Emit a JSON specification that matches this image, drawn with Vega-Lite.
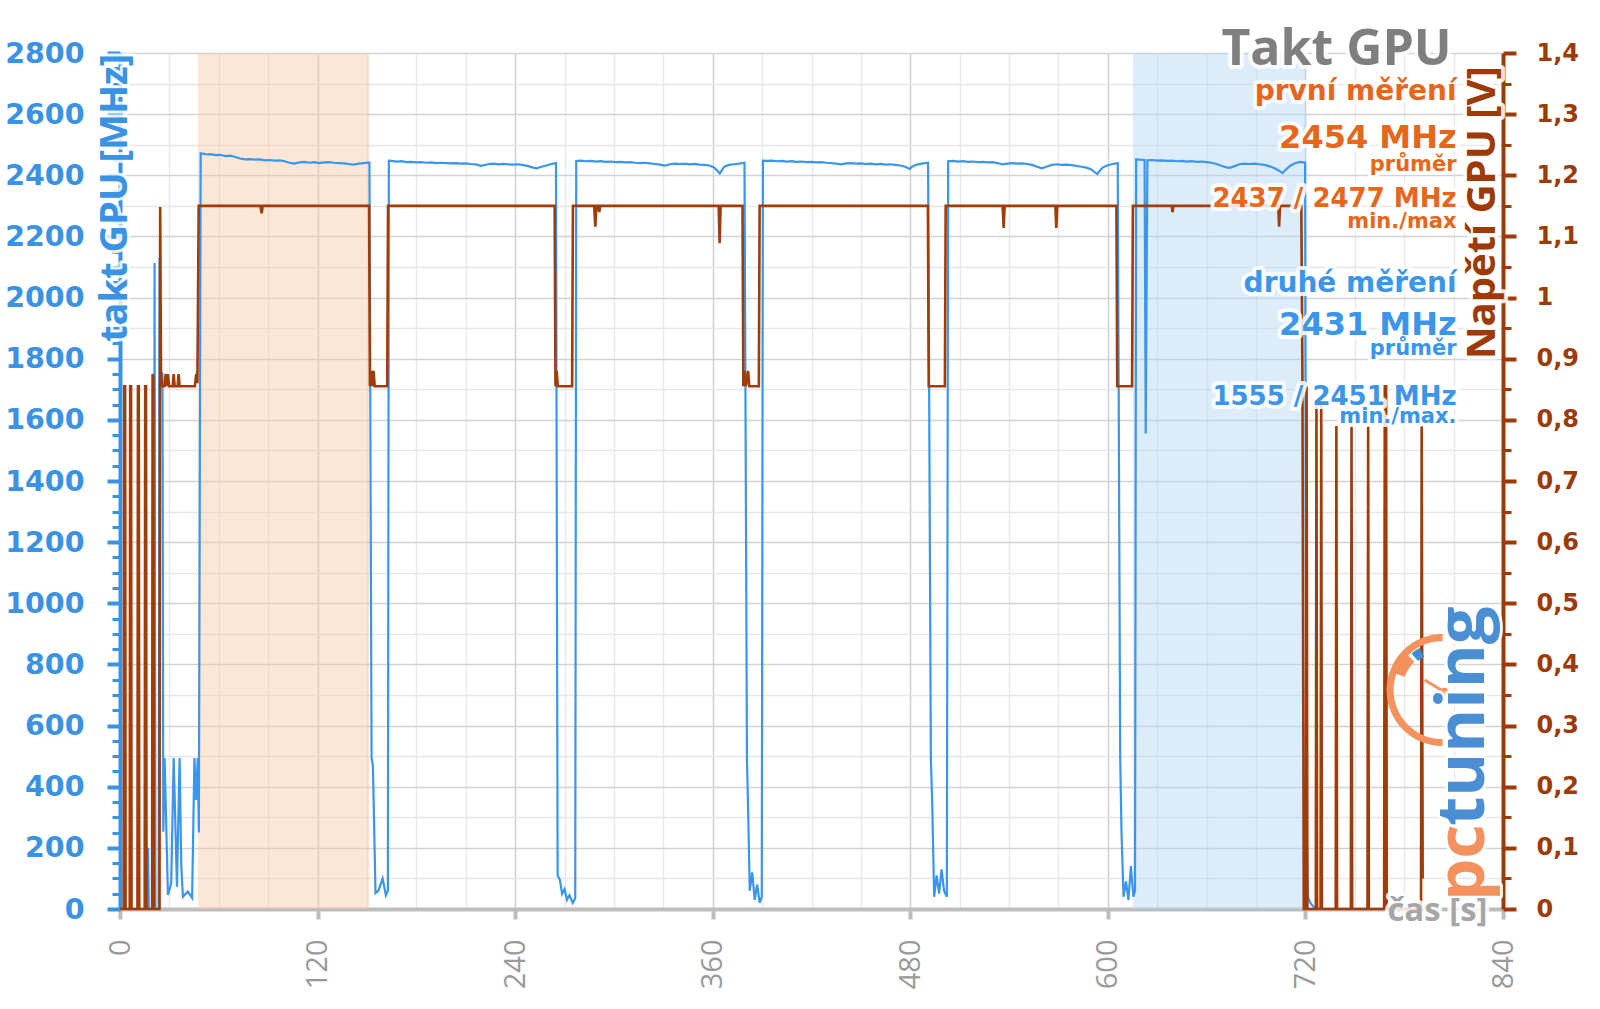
{
  "$schema": "https://vega.github.io/schema/vega-lite/v6.json",
  "width": 1383,
  "height": 856,
  "autosize": {"type": "none"},
  "padding": {"left": 120, "top": 53, "right": 97, "bottom": 100},
  "background": "white",
  "config": {
    "view": {"stroke": null},
    "style": {
      "note": {"font": "DejaVu Sans", "fontWeight": "bold", "align": "right", "baseline": "alphabetic"},
      "halo": {"fill": "white", "stroke": "white", "strokeWidth": 8, "strokeJoin": "round", "opacity": 0.85}
    }
  },
  "datasets": {
    "runs": [
      {"start": 47.3, "end": 151.3, "run": "první měření"},
      {"start": 615.2, "end": 720.5, "run": "druhé měření"}
    ],
    "clk": [
      {"t":0,"mhz":0},{"t":16.5,"mhz":0},{"t":17,"mhz":200},{"t":17.5,"mhz":0},{"t":20.5,"mhz":0},{"t":21,"mhz":2113},{"t":21.5,"mhz":0},{"t":23.5,"mhz":0},{"t":24.0,"mhz":2130},{"t":24.6,"mhz":1760},{"t":25.8,"mhz":1750},{"t":26.3,"mhz":253},{"t":27.1,"mhz":494},{"t":29.1,"mhz":46},{"t":31.1,"mhz":84},{"t":32.6,"mhz":494},{"t":34.6,"mhz":73},{"t":36.2,"mhz":494},{"t":37.2,"mhz":145},{"t":38.2,"mhz":40},{"t":41.2,"mhz":57},{"t":43.8,"mhz":36},{"t":45.2,"mhz":494},{"t":46.2,"mhz":357},{"t":47.2,"mhz":494},{"t":47.9,"mhz":250},{"t":49.0,"mhz":2472},
      {"t":51,"mhz":2470},{"t":53,"mhz":2468},{"t":55,"mhz":2469},{"t":58,"mhz":2466},{"t":61,"mhz":2467},{"t":64,"mhz":2463},{"t":67,"mhz":2464},{"t":70,"mhz":2460},{"t":73,"mhz":2455},{"t":76,"mhz":2452},{"t":79,"mhz":2453},{"t":82,"mhz":2451},{"t":85,"mhz":2452},{"t":88,"mhz":2449},{"t":91,"mhz":2450},{"t":94,"mhz":2448},{"t":97,"mhz":2449},{"t":100,"mhz":2446},{"t":103,"mhz":2441},{"t":106,"mhz":2438},{"t":109,"mhz":2442},{"t":112,"mhz":2444},{"t":115,"mhz":2441},{"t":118,"mhz":2443},{"t":121,"mhz":2440},{"t":124,"mhz":2442},{"t":127,"mhz":2443},{"t":130,"mhz":2441},{"t":133,"mhz":2440},{"t":136,"mhz":2439},{"t":139,"mhz":2437},{"t":142,"mhz":2435},{"t":145,"mhz":2438},{"t":148,"mhz":2440},{"t":151.5,"mhz":2442},
      {"t":152.8,"mhz":494},{"t":153.6,"mhz":470},{"t":155.2,"mhz":52},{"t":157,"mhz":60},{"t":159.5,"mhz":100},{"t":161.5,"mhz":45},{"t":162.7,"mhz":60},
      {"t":163.3,"mhz":2448},{"t":165,"mhz":2447},{"t":168,"mhz":2445},{"t":171,"mhz":2446},{"t":174,"mhz":2443},{"t":177,"mhz":2444},{"t":180,"mhz":2442},{"t":183,"mhz":2443},{"t":186,"mhz":2441},{"t":189,"mhz":2442},{"t":192,"mhz":2440},{"t":195,"mhz":2441},{"t":198,"mhz":2440},{"t":201,"mhz":2439},{"t":204,"mhz":2440},{"t":207,"mhz":2438},{"t":210,"mhz":2439},{"t":213,"mhz":2437},{"t":216,"mhz":2436},{"t":219,"mhz":2431},{"t":221,"mhz":2433},{"t":224,"mhz":2437},{"t":227,"mhz":2438},{"t":230,"mhz":2436},{"t":233,"mhz":2437},{"t":236,"mhz":2436},{"t":239,"mhz":2435},{"t":242,"mhz":2436},{"t":245,"mhz":2433},{"t":248,"mhz":2430},{"t":251,"mhz":2425},{"t":253,"mhz":2423},{"t":256,"mhz":2428},{"t":259,"mhz":2432},{"t":262,"mhz":2437},{"t":264.8,"mhz":2440},
      {"t":265.8,"mhz":110},{"t":267.2,"mhz":95},{"t":268.5,"mhz":50},{"t":270,"mhz":65},{"t":271.5,"mhz":30},{"t":273,"mhz":45},{"t":275,"mhz":20},{"t":276.5,"mhz":35},
      {"t":277.1,"mhz":2447},{"t":280,"mhz":2448},{"t":283,"mhz":2446},{"t":286,"mhz":2447},{"t":289,"mhz":2445},{"t":292,"mhz":2446},{"t":295,"mhz":2444},{"t":298,"mhz":2445},{"t":301,"mhz":2443},{"t":304,"mhz":2444},{"t":307,"mhz":2442},{"t":310,"mhz":2443},{"t":313,"mhz":2441},{"t":316,"mhz":2440},{"t":319,"mhz":2441},{"t":322,"mhz":2439},{"t":325,"mhz":2437},{"t":328,"mhz":2435},{"t":331,"mhz":2432},{"t":334,"mhz":2436},{"t":337,"mhz":2438},{"t":340,"mhz":2437},{"t":343,"mhz":2438},{"t":346,"mhz":2436},{"t":349,"mhz":2437},{"t":352,"mhz":2435},{"t":355,"mhz":2434},{"t":358,"mhz":2432},{"t":361,"mhz":2425},{"t":363,"mhz":2414},{"t":364.3,"mhz":2406},{"t":365.5,"mhz":2416},{"t":367,"mhz":2428},{"t":370,"mhz":2434},{"t":373,"mhz":2436},{"t":376,"mhz":2438},{"t":379.3,"mhz":2441},
      {"t":380.8,"mhz":494},{"t":381.6,"mhz":300},{"t":382.5,"mhz":60},{"t":384,"mhz":120},{"t":385.5,"mhz":30},{"t":387,"mhz":80},{"t":388.5,"mhz":20},{"t":389.8,"mhz":40},
      {"t":390.5,"mhz":2448},{"t":393,"mhz":2447},{"t":396,"mhz":2448},{"t":399,"mhz":2446},{"t":402,"mhz":2447},{"t":405,"mhz":2445},{"t":408,"mhz":2446},{"t":411,"mhz":2444},{"t":414,"mhz":2445},{"t":417,"mhz":2443},{"t":420,"mhz":2444},{"t":423,"mhz":2442},{"t":426,"mhz":2443},{"t":429,"mhz":2441},{"t":432,"mhz":2440},{"t":435,"mhz":2438},{"t":438,"mhz":2436},{"t":441,"mhz":2439},{"t":444,"mhz":2440},{"t":447,"mhz":2438},{"t":450,"mhz":2439},{"t":453,"mhz":2437},{"t":456,"mhz":2438},{"t":459,"mhz":2436},{"t":462,"mhz":2437},{"t":465,"mhz":2435},{"t":468,"mhz":2436},{"t":471,"mhz":2434},{"t":474,"mhz":2432},{"t":477,"mhz":2428},{"t":479.6,"mhz":2421},{"t":481,"mhz":2428},{"t":484,"mhz":2435},{"t":487,"mhz":2438},{"t":490.8,"mhz":2441},
      {"t":492.5,"mhz":494},{"t":493.3,"mhz":350},{"t":494.5,"mhz":40},{"t":496,"mhz":110},{"t":497.5,"mhz":50},{"t":499,"mhz":130},{"t":500.5,"mhz":60},{"t":502.2,"mhz":40},
      {"t":503.0,"mhz":2446},{"t":506,"mhz":2447},{"t":509,"mhz":2445},{"t":512,"mhz":2446},{"t":515,"mhz":2444},{"t":518,"mhz":2445},{"t":521,"mhz":2443},{"t":524,"mhz":2444},{"t":527,"mhz":2442},{"t":530,"mhz":2443},{"t":533,"mhz":2440},{"t":536,"mhz":2436},{"t":539,"mhz":2438},{"t":542,"mhz":2440},{"t":545,"mhz":2438},{"t":548,"mhz":2439},{"t":551,"mhz":2437},{"t":554,"mhz":2434},{"t":557,"mhz":2428},{"t":560,"mhz":2423},{"t":563,"mhz":2429},{"t":566,"mhz":2434},{"t":569,"mhz":2436},{"t":572,"mhz":2434},{"t":575,"mhz":2435},{"t":578,"mhz":2433},{"t":581,"mhz":2431},{"t":584,"mhz":2428},{"t":587,"mhz":2425},{"t":590,"mhz":2419},{"t":592,"mhz":2410},{"t":593.6,"mhz":2404},{"t":595,"mhz":2415},{"t":597,"mhz":2426},{"t":600,"mhz":2433},{"t":603,"mhz":2437},{"t":606,"mhz":2440},
      {"t":607.5,"mhz":494},{"t":608.3,"mhz":250},{"t":609.5,"mhz":40},{"t":611,"mhz":90},{"t":612.5,"mhz":30},{"t":614,"mhz":140},{"t":615.5,"mhz":40},{"t":616.5,"mhz":60},
      {"t":617.2,"mhz":2452},{"t":619,"mhz":2451},{"t":622.3,"mhz":2450},{"t":623.0,"mhz":1555},{"t":624.0,"mhz":2449},{"t":627,"mhz":2450},{"t":630,"mhz":2448},{"t":633,"mhz":2449},{"t":636,"mhz":2447},{"t":639,"mhz":2448},{"t":642,"mhz":2446},{"t":645,"mhz":2447},{"t":648,"mhz":2445},{"t":651,"mhz":2446},{"t":654,"mhz":2444},{"t":657,"mhz":2445},{"t":660,"mhz":2443},{"t":663,"mhz":2441},{"t":666,"mhz":2437},{"t":669,"mhz":2431},{"t":672,"mhz":2426},{"t":674,"mhz":2424},{"t":677,"mhz":2430},{"t":680,"mhz":2436},{"t":683,"mhz":2438},{"t":686,"mhz":2437},{"t":689,"mhz":2438},{"t":692,"mhz":2436},{"t":695,"mhz":2434},{"t":698,"mhz":2430},{"t":701,"mhz":2424},{"t":704,"mhz":2415},{"t":706,"mhz":2407},{"t":708,"mhz":2418},{"t":711,"mhz":2432},{"t":714,"mhz":2440},{"t":717,"mhz":2444},{"t":719.8,"mhz":2441},{"t":720.6,"mhz":300},{"t":721.5,"mhz":40},{"t":723,"mhz":20},{"t":726,"mhz":0}
    ],
    "volt": [
      {"t":0,"v":0},{"t":2.3,"v":0},{"t":2.6,"v":0.855},{"t":3.1,"v":0.855},{"t":3.4,"v":0},{"t":5.9,"v":0},{"t":6.2,"v":0.855},{"t":6.7,"v":0.855},{"t":7.0,"v":0},{"t":10.6,"v":0},{"t":10.9,"v":0.855},{"t":11.4,"v":0.855},{"t":11.7,"v":0},{"t":15.0,"v":0},{"t":15.3,"v":0.855},{"t":15.8,"v":0.855},{"t":16.1,"v":0},{"t":19.5,"v":0},{"t":19.8,"v":0.875},{"t":20.3,"v":0.87},{"t":20.6,"v":0},{"t":24.0,"v":0},{"t":24.4,"v":1.148},{"t":24.9,"v":0.875},{"t":25.5,"v":0.855},{"t":27,"v":0.855},{"t":27.8,"v":0.875},{"t":28.5,"v":0.855},{"t":29.1,"v":0.875},{"t":29.8,"v":0.855},{"t":32.0,"v":0.855},{"t":32.6,"v":0.875},{"t":33.2,"v":0.855},{"t":35.0,"v":0.855},{"t":35.6,"v":0.875},{"t":36.2,"v":0.855},{"t":45.5,"v":0.855},{"t":46.3,"v":0.875},{"t":47.0,"v":0.86},{"t":47.8,"v":1.15},
      {"t":85.3,"v":1.15},{"t":86,"v":1.138},{"t":86.7,"v":1.15},
      {"t":151.3,"v":1.15},{"t":151.8,"v":0.855},{"t":152.5,"v":0.88},{"t":153.1,"v":0.855},{"t":154,"v":0.88},{"t":154.7,"v":0.855},{"t":162.3,"v":0.855},{"t":162.8,"v":1.15},
      {"t":264.0,"v":1.15},{"t":264.5,"v":0.855},{"t":265.2,"v":0.88},{"t":265.9,"v":0.855},{"t":274.6,"v":0.855},{"t":275.1,"v":1.15},
      {"t":288.0,"v":1.15},{"t":288.7,"v":1.116},{"t":289.4,"v":1.15},{"t":290.5,"v":1.15},{"t":291.1,"v":1.14},{"t":291.7,"v":1.15},
      {"t":363.6,"v":1.15},{"t":364.2,"v":1.089},{"t":364.8,"v":1.15},
      {"t":378.1,"v":1.15},{"t":378.6,"v":0.855},{"t":379.4,"v":0.88},{"t":380.1,"v":0.855},{"t":381.5,"v":0.88},{"t":382.2,"v":0.855},{"t":388.0,"v":0.855},{"t":388.5,"v":1.15},
      {"t":490.7,"v":1.15},{"t":491.2,"v":0.855},{"t":501.0,"v":0.855},{"t":501.5,"v":1.15},
      {"t":536.1,"v":1.15},{"t":536.7,"v":1.114},{"t":537.3,"v":1.15},{"t":568.1,"v":1.15},{"t":568.7,"v":1.114},{"t":569.3,"v":1.15},
      {"t":605.2,"v":1.15},{"t":605.7,"v":0.855},{"t":614.7,"v":0.855},{"t":615.2,"v":1.15},
      {"t":638.8,"v":1.15},{"t":639.3,"v":1.14},{"t":639.8,"v":1.15},
      {"t":703.5,"v":1.15},{"t":704.0,"v":1.116},{"t":704.6,"v":1.15},
      {"t":717.5,"v":1.15},{"t":718.2,"v":0.86},{"t":719.0,"v":0},{"t":720.3,"v":0},{"t":720.7,"v":0.855},{"t":721.2,"v":0},{"t":726.3,"v":0},{"t":726.7,"v":0.83},{"t":727.1,"v":0},{"t":729.2,"v":0},{"t":729.6,"v":0.83},{"t":730.0,"v":0},{"t":738.4,"v":0},{"t":738.8,"v":0.79},{"t":739.2,"v":0},{"t":747.6,"v":0},{"t":748.0,"v":0.79},{"t":748.4,"v":0},{"t":757.7,"v":0},{"t":758.1,"v":0.79},{"t":758.5,"v":0},{"t":767.8,"v":0},{"t":768.2,"v":0.855},{"t":769.0,"v":0.855},{"t":769.4,"v":0},{"t":790.2,"v":0},{"t":790.6,"v":0.79},{"t":791.2,"v":0.05}
    ]
  },
  "layer": [
    {
      "layer": [
        {
          "data": {"name": "runs"},
          "mark": {"type": "rect", "opacity": 0.45},
          "encoding": {
            "x": {"field": "start", "type": "quantitative", "scale": {"domain": [0, 840], "nice": false}},
            "x2": {"field": "end"},
            "color": {"field": "run", "type": "nominal", "scale": {"domain": ["první měření", "druhé měření"], "range": ["#F9C9A3", "#B3D4F5"]}, "legend": null}
          }
        },
        {
          "data": {"name": "clk"},
          "mark": {"type": "line", "color": "#3A96EC", "strokeWidth": 2.2},
          "encoding": {
            "x": {"field": "t", "type": "quantitative", "scale": {"domain": [0, 840], "nice": false}},
            "y": {
              "field": "mhz", "type": "quantitative",
              "scale": {"domain": [0, 2800], "nice": false},
              "axis": {
                "title": null, "orient": "left",
                "values": [0,50,100,150,200,250,300,350,400,450,500,550,600,650,700,750,800,850,900,950,1000,1050,1100,1150,1200,1250,1300,1350,1400,1450,1500,1550,1600,1650,1700,1750,1800,1850,1900,1950,2000,2050,2100,2150,2200,2250,2300,2350,2400,2450,2500,2550,2600,2650,2700,2750,2800],
                "labelExpr": "datum.value % 200 === 0 ? format(datum.value, 'd') : ''",
                "labelFont": "DejaVu Sans", "labelFontWeight": "bold", "labelFontSize": 28.5, "labelColor": "#3A92E4",
                "labelPadding": 23, "labelOverlap": false, "labelFlush": false,
                "tickSize": {"condition": {"test": "datum.value % 200 === 0", "value": 13}, "value": 8},
                "tickWidth": {"condition": {"test": "datum.value % 200 === 0", "value": 4}, "value": 3},
                "tickColor": "#3A92E4",
                "domainColor": "#3A92E4", "domainWidth": 4,
                "grid": true, "gridWidth": 1.5, "gridColor": "#d3d3d3",
                "gridOpacity": {"condition": {"test": "datum.value % 200 === 0", "value": 1}, "value": 0}
              }
            }
          }
        }
      ]
    },
    {
      "data": {"name": "volt"},
      "mark": {"type": "line", "color": "#A03C0A", "strokeWidth": 2.6},
      "encoding": {
        "x": {
          "field": "t", "type": "quantitative",
          "scale": {"domain": [0, 840], "nice": false},
          "axis": {
            "title": null, "orient": "bottom",
            "values": [0,15,30,45,60,75,90,105,120,135,150,165,180,195,210,225,240,255,270,285,300,315,330,345,360,375,390,405,420,435,450,465,480,495,510,525,540,555,570,585,600,615,630,645,660,675,690,705,720,735,750,765,780,795,810,825,840],
            "labelExpr": "datum.value % 120 === 0 ? format(datum.value, 'd') : ''",
            "labelAngle": -90, "labelFont": "Open Sans", "labelFontSize": 29, "labelColor": "#9A9A9A",
            "labelPadding": 20, "labelOverlap": false, "labelFlush": false,
            "tickSize": {"condition": {"test": "datum.value % 120 === 0", "value": 10}, "value": 0},
            "tickWidth": 4, "tickColor": "#BDBDBD",
            "domainColor": "#BDBDBD", "domainWidth": 4,
            "grid": true, "gridWidth": 1.5,
            "gridColor": {"condition": {"test": "datum.value % 120 === 0", "value": "#d0d0d0"}, "value": "#e9e9e9"}
          }
        },
        "y": {
          "field": "v", "type": "quantitative",
          "scale": {"domain": [0, 1.4], "nice": false},
          "axis": {
            "title": null, "orient": "right",
            "values": [0,0.05,0.1,0.15,0.2,0.25,0.3,0.35,0.4,0.45,0.5,0.55,0.6,0.65,0.7,0.75,0.8,0.85,0.9,0.95,1,1.05,1.1,1.15,1.2,1.25,1.3,1.35,1.4],
            "labelExpr": "abs(datum.value*10 - round(datum.value*10)) < 0.001 ? replace(format(datum.value, '.1~f'), '.', ',') : ''",
            "labelFont": "DejaVu Sans", "labelFontWeight": "bold", "labelFontSize": 24, "labelColor": "#9E3A08",
            "labelPadding": 20, "labelOverlap": false, "labelFlush": false,
            "tickSize": {"condition": {"test": "abs(datum.value*10 - round(datum.value*10)) < 0.001", "value": 13}, "value": 8},
            "tickWidth": {"condition": {"test": "abs(datum.value*10 - round(datum.value*10)) < 0.001", "value": 4}, "value": 3},
            "tickColor": "#9E3A08",
            "domainColor": "#9E3A08", "domainWidth": 4,
            "grid": true, "gridWidth": 1.5, "gridColor": "#e6e6e6",
            "gridOpacity": {"condition": {"test": "abs(datum.value*10 - round(datum.value*10)) < 0.001", "value": 0}, "value": 1}
          }
        }
      }
    },
    {
      "data": {"values": [{}]},
      "layer": [
        {"mark": {"type": "arc", "radius": 56, "radius2": 49, "theta": 3.1416, "theta2": 6.2832, "fill": "#F4915C"},
         "encoding": {"x": {"datum": 803.3, "type": "quantitative"}, "y": {"datum": 716, "type": "quantitative", "scale": {"domain": [0, 2800], "nice": false}, "axis": null}}},
        {"mark": {"type": "arc", "radius": 54, "radius2": 40, "theta": 5.05, "theta2": 5.5, "fill": "#F4915C"},
         "encoding": {"x": {"datum": 803.3, "type": "quantitative"}, "y": {"datum": 716, "type": "quantitative", "scale": {"domain": [0, 2800], "nice": false}, "axis": null}}},
        {"mark": {"type": "arc", "radius": 48, "radius2": 38, "theta": 5.58, "theta2": 5.78, "fill": "#3F8ED6"},
         "encoding": {"x": {"datum": 803.3, "type": "quantitative"}, "y": {"datum": 716, "type": "quantitative", "scale": {"domain": [0, 2800], "nice": false}, "axis": null}}},
        {"mark": {"type": "rule", "color": "#F4915C", "strokeWidth": 3},
         "encoding": {"x": {"datum": 804.5, "type": "quantitative"}, "y": {"datum": 710, "type": "quantitative", "scale": {"domain": [0, 2800], "nice": false}, "axis": null}, "x2": {"datum": 792.4}, "y2": {"datum": 749}}},
        {"mark": {"type": "point", "filled": true, "size": 70, "color": "#F4915C", "opacity": 1},
         "encoding": {"x": {"datum": 804.5, "type": "quantitative"}, "y": {"datum": 710, "type": "quantitative", "scale": {"domain": [0, 2800], "nice": false}, "axis": null}}},

        {"mark": {"type": "text", "style": "halo", "text": "pc", "font": "Open Sans", "fontWeight": "bold", "fontSize": 67, "angle": 270, "align": "left", "baseline": "alphabetic", "strokeWidth": 6},
         "encoding": {"x": {"datum": 828.5, "type": "quantitative"}, "y": {"datum": 26, "type": "quantitative", "scale": {"domain": [0, 2800], "nice": false}, "axis": null}}},
        {"mark": {"type": "text", "style": "halo", "text": "tuning", "font": "Open Sans", "fontWeight": "bold", "fontSize": 67, "angle": 270, "align": "left", "baseline": "alphabetic", "strokeWidth": 6},
         "encoding": {"x": {"datum": 828.5, "type": "quantitative"}, "y": {"datum": 272, "type": "quantitative", "scale": {"domain": [0, 2800], "nice": false}, "axis": null}}},
        {"mark": {"type": "text", "style": "halo", "text": "takt GPU [MHz]", "font": "Open Sans", "fontWeight": "bold", "fontSize": 38, "angle": 270, "align": "right", "baseline": "middle", "strokeWidth": 6},
         "encoding": {"x": {"datum": -2.7, "type": "quantitative"}, "y": {"datum": 2797, "type": "quantitative", "scale": {"domain": [0, 2800], "nice": false}, "axis": null}}},
        {"mark": {"type": "text", "style": "halo", "text": "Napětí GPU [V]", "font": "Open Sans", "fontWeight": "bold", "fontSize": 40, "angle": 270, "align": "right", "baseline": "middle"},
         "encoding": {"x": {"datum": 827.6, "type": "quantitative"}, "y": {"datum": 2757, "type": "quantitative", "scale": {"domain": [0, 2800], "nice": false}, "axis": null}}},
        {"mark": {"type": "text", "style": ["note", "halo"], "text": "čas [s]", "font": "Open Sans", "fontSize": 33},
         "encoding": {"x": {"datum": 830.6, "type": "quantitative"}, "y": {"datum": -40, "type": "quantitative", "scale": {"domain": [0, 2800], "nice": false}, "axis": null}}},
        {"mark": {"type": "text", "style": ["note", "halo"], "text": "Takt GPU", "font": "Open Sans", "fontSize": 50},
         "encoding": {"x": {"datum": 808.8, "type": "quantitative"}, "y": {"datum": 2761, "type": "quantitative", "scale": {"domain": [0, 2800], "nice": false}, "axis": null}}},
        {"mark": {"type": "text", "style": ["note", "halo"], "text": "první měření", "fontSize": 28},
         "encoding": {"x": {"datum": 811.8, "type": "quantitative"}, "y": {"datum": 2646, "type": "quantitative", "scale": {"domain": [0, 2800], "nice": false}, "axis": null}}},
        {"mark": {"type": "text", "style": ["note", "halo"], "text": "2454 MHz", "fontSize": 32},
         "encoding": {"x": {"datum": 811.8, "type": "quantitative"}, "y": {"datum": 2489, "type": "quantitative", "scale": {"domain": [0, 2800], "nice": false}, "axis": null}}},
        {"mark": {"type": "text", "style": ["note", "halo"], "text": "průměr", "fontSize": 21},
         "encoding": {"x": {"datum": 811.8, "type": "quantitative"}, "y": {"datum": 2414, "type": "quantitative", "scale": {"domain": [0, 2800], "nice": false}, "axis": null}}},
        {"mark": {"type": "text", "style": ["note", "halo"], "text": "2437 / 2477 MHz", "fontSize": 26},
         "encoding": {"x": {"datum": 811.8, "type": "quantitative"}, "y": {"datum": 2296, "type": "quantitative", "scale": {"domain": [0, 2800], "nice": false}, "axis": null}}},
        {"mark": {"type": "text", "style": ["note", "halo"], "text": "min./max", "fontSize": 21},
         "encoding": {"x": {"datum": 811.8, "type": "quantitative"}, "y": {"datum": 2226, "type": "quantitative", "scale": {"domain": [0, 2800], "nice": false}, "axis": null}}},
        {"mark": {"type": "text", "style": ["note", "halo"], "text": "druhé měření", "fontSize": 28},
         "encoding": {"x": {"datum": 811.8, "type": "quantitative"}, "y": {"datum": 2018, "type": "quantitative", "scale": {"domain": [0, 2800], "nice": false}, "axis": null}}},
        {"mark": {"type": "text", "style": ["note", "halo"], "text": "2431 MHz", "fontSize": 32},
         "encoding": {"x": {"datum": 811.8, "type": "quantitative"}, "y": {"datum": 1878, "type": "quantitative", "scale": {"domain": [0, 2800], "nice": false}, "axis": null}}},
        {"mark": {"type": "text", "style": ["note", "halo"], "text": "průměr", "fontSize": 21},
         "encoding": {"x": {"datum": 811.8, "type": "quantitative"}, "y": {"datum": 1812, "type": "quantitative", "scale": {"domain": [0, 2800], "nice": false}, "axis": null}}},
        {"mark": {"type": "text", "style": ["note", "halo"], "text": "1555 / 2451 MHz", "fontSize": 26},
         "encoding": {"x": {"datum": 811.8, "type": "quantitative"}, "y": {"datum": 1649, "type": "quantitative", "scale": {"domain": [0, 2800], "nice": false}, "axis": null}}},
        {"mark": {"type": "text", "style": ["note", "halo"], "text": "min./max.", "fontSize": 21},
         "encoding": {"x": {"datum": 811.8, "type": "quantitative"}, "y": {"datum": 1590, "type": "quantitative", "scale": {"domain": [0, 2800], "nice": false}, "axis": null}}},

        {"mark": {"type": "text", "text": "pc", "font": "Open Sans", "fontWeight": "bold", "fontSize": 67, "angle": 270, "align": "left", "baseline": "alphabetic", "fill": "#F4915C"},
         "encoding": {"x": {"datum": 828.5, "type": "quantitative"}, "y": {"datum": 26, "type": "quantitative", "scale": {"domain": [0, 2800], "nice": false}, "axis": null}}},
        {"mark": {"type": "text", "text": "tuning", "font": "Open Sans", "fontWeight": "bold", "fontSize": 67, "angle": 270, "align": "left", "baseline": "alphabetic", "fill": "#4A8FD4"},
         "encoding": {"x": {"datum": 828.5, "type": "quantitative"}, "y": {"datum": 272, "type": "quantitative", "scale": {"domain": [0, 2800], "nice": false}, "axis": null}}},
        {"mark": {"type": "text", "text": "takt GPU [MHz]", "font": "Open Sans", "fontWeight": "bold", "fontSize": 38, "angle": 270, "align": "right", "baseline": "middle", "fill": "#3A92E4"},
         "encoding": {"x": {"datum": -2.7, "type": "quantitative"}, "y": {"datum": 2797, "type": "quantitative", "scale": {"domain": [0, 2800], "nice": false}, "axis": null}}},
        {"mark": {"type": "text", "text": "Napětí GPU [V]", "font": "Open Sans", "fontWeight": "bold", "fontSize": 40, "angle": 270, "align": "right", "baseline": "middle", "fill": "#9E3A08"},
         "encoding": {"x": {"datum": 827.6, "type": "quantitative"}, "y": {"datum": 2757, "type": "quantitative", "scale": {"domain": [0, 2800], "nice": false}, "axis": null}}},
        {"mark": {"type": "text", "style": "note", "text": "čas [s]", "font": "Open Sans", "fontSize": 33, "fill": "#A6A6A6"},
         "encoding": {"x": {"datum": 830.6, "type": "quantitative"}, "y": {"datum": -40, "type": "quantitative", "scale": {"domain": [0, 2800], "nice": false}, "axis": null}}},
        {"mark": {"type": "text", "style": "note", "text": "Takt GPU", "font": "Open Sans", "fontSize": 50, "fill": "#7F7F7F"},
         "encoding": {"x": {"datum": 808.8, "type": "quantitative"}, "y": {"datum": 2761, "type": "quantitative", "scale": {"domain": [0, 2800], "nice": false}, "axis": null}}},
        {"mark": {"type": "text", "style": "note", "text": "první měření", "fontSize": 28, "fill": "#E8661A"},
         "encoding": {"x": {"datum": 811.8, "type": "quantitative"}, "y": {"datum": 2646, "type": "quantitative", "scale": {"domain": [0, 2800], "nice": false}, "axis": null}}},
        {"mark": {"type": "text", "style": "note", "text": "2454 MHz", "fontSize": 32, "fill": "#E8661A"},
         "encoding": {"x": {"datum": 811.8, "type": "quantitative"}, "y": {"datum": 2489, "type": "quantitative", "scale": {"domain": [0, 2800], "nice": false}, "axis": null}}},
        {"mark": {"type": "text", "style": "note", "text": "průměr", "fontSize": 21, "fill": "#E8661A"},
         "encoding": {"x": {"datum": 811.8, "type": "quantitative"}, "y": {"datum": 2414, "type": "quantitative", "scale": {"domain": [0, 2800], "nice": false}, "axis": null}}},
        {"mark": {"type": "text", "style": "note", "text": "2437 / 2477 MHz", "fontSize": 26, "fill": "#E8661A"},
         "encoding": {"x": {"datum": 811.8, "type": "quantitative"}, "y": {"datum": 2296, "type": "quantitative", "scale": {"domain": [0, 2800], "nice": false}, "axis": null}}},
        {"mark": {"type": "text", "style": "note", "text": "min./max", "fontSize": 21, "fill": "#E8661A"},
         "encoding": {"x": {"datum": 811.8, "type": "quantitative"}, "y": {"datum": 2226, "type": "quantitative", "scale": {"domain": [0, 2800], "nice": false}, "axis": null}}},
        {"mark": {"type": "text", "style": "note", "text": "druhé měření", "fontSize": 28, "fill": "#3B95EA"},
         "encoding": {"x": {"datum": 811.8, "type": "quantitative"}, "y": {"datum": 2018, "type": "quantitative", "scale": {"domain": [0, 2800], "nice": false}, "axis": null}}},
        {"mark": {"type": "text", "style": "note", "text": "2431 MHz", "fontSize": 32, "fill": "#3B95EA"},
         "encoding": {"x": {"datum": 811.8, "type": "quantitative"}, "y": {"datum": 1878, "type": "quantitative", "scale": {"domain": [0, 2800], "nice": false}, "axis": null}}},
        {"mark": {"type": "text", "style": "note", "text": "průměr", "fontSize": 21, "fill": "#3B95EA"},
         "encoding": {"x": {"datum": 811.8, "type": "quantitative"}, "y": {"datum": 1812, "type": "quantitative", "scale": {"domain": [0, 2800], "nice": false}, "axis": null}}},
        {"mark": {"type": "text", "style": "note", "text": "1555 / 2451 MHz", "fontSize": 26, "fill": "#3B95EA"},
         "encoding": {"x": {"datum": 811.8, "type": "quantitative"}, "y": {"datum": 1649, "type": "quantitative", "scale": {"domain": [0, 2800], "nice": false}, "axis": null}}},
        {"mark": {"type": "text", "style": "note", "text": "min./max.", "fontSize": 21, "fill": "#3B95EA"},
         "encoding": {"x": {"datum": 811.8, "type": "quantitative"}, "y": {"datum": 1590, "type": "quantitative", "scale": {"domain": [0, 2800], "nice": false}, "axis": null}}}
      ]
    }
  ],
  "resolve": {"scale": {"y": "independent"}}
}
